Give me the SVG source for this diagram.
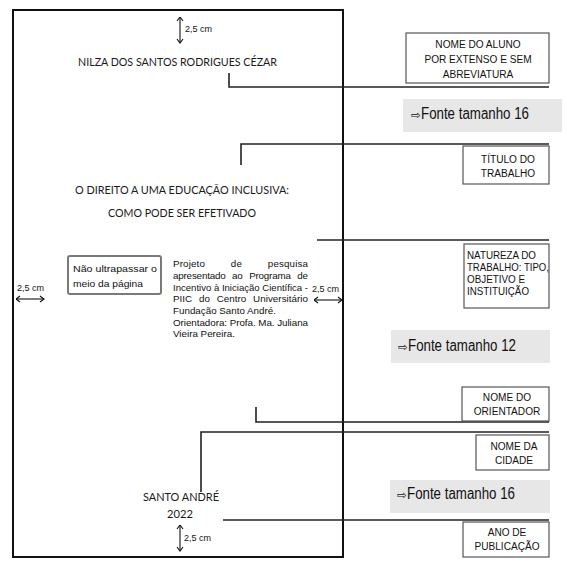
<svg xmlns="http://www.w3.org/2000/svg" width="567" height="568" viewBox="0 0 567 568">
<style>
.cal{font-family:Lato,"Open Sans","Liberation Sans",sans-serif;font-size:12px;fill:#1a1a1a}
.lab{font-family:"Liberation Sans",Arial,sans-serif;font-size:11px;fill:#111}
.sm{font-family:"Liberation Sans",Arial,sans-serif;font-size:9px;fill:#111}
.body{font-family:"Liberation Sans",Arial,sans-serif;font-size:9.8px;fill:#111}
.big{font-family:"Liberation Sans",Arial,sans-serif;font-size:16px;fill:#111}
.arw{font-family:"DejaVu Sans",sans-serif;font-size:11.5px;fill:#111}
.box{fill:#fff;stroke:#555;stroke-width:1.2}
.gray{fill:#e7e7e7;stroke:none}
.con{fill:none;stroke:#222;stroke-width:1.6}
.dim{fill:none;stroke:#111;stroke-width:1.1;marker-start:url(#ah);marker-end:url(#ah)}
</style>
<defs>
<marker id="ah" viewBox="0 0 8 8" refX="7.5" refY="4" markerWidth="8" markerHeight="8" markerUnits="userSpaceOnUse" orient="auto-start-reverse">
<path d="M3.5,1 L7.5,4 L3.5,7" fill="none" stroke="#111" stroke-width="1.1"/>
</marker>
</defs>
<rect width="567" height="568" fill="#fff"/>

<g id="page">
<rect x="13" y="10" width="330" height="547" fill="none" stroke="#111" stroke-width="2"/>
<text class="cal" x="78" y="66" textLength="199" lengthAdjust="spacingAndGlyphs">NILZA DOS SANTOS RODRIGUES CÉZAR</text>
<text class="cal" x="75" y="194" textLength="214" lengthAdjust="spacingAndGlyphs">O DIREITO A UMA EDUCAÇÃO INCLUSIVA:</text>
<text class="cal" x="108" y="217" textLength="148" lengthAdjust="spacingAndGlyphs">COMO PODE SER EFETIVADO</text>
<text class="cal" x="143" y="501" textLength="76" lengthAdjust="spacingAndGlyphs">SANTO ANDRÉ</text>
<text class="cal" x="167" y="518" textLength="26" lengthAdjust="spacingAndGlyphs">2022</text>
</g>

<g id="margins">
<path class="dim" d="M180,17 V43"/>
<text class="sm" x="185" y="32">2,5 cm</text>
<path class="dim" d="M16,299 H44"/>
<text class="sm" x="17" y="291">2,5 cm</text>
<path class="dim" d="M314,300 H342"/>
<text class="sm" x="312" y="292">2,5 cm</text>
<path class="dim" d="M180,525 V551"/>
<text class="sm" x="184" y="541">2,5 cm</text>
</g>

<g id="nao-ultrapassar">
<rect x="68" y="256" width="93" height="38" rx="2" fill="#fff" stroke="#7a7a7a" stroke-width="2"/>
<text class="body" x="73" y="272" font-size="10.6" textLength="84" lengthAdjust="spacingAndGlyphs">Não ultrapassar o</text>
<text class="body" x="73" y="287" font-size="10.6" textLength="70" lengthAdjust="spacingAndGlyphs">meio da página</text>
</g>

<g id="projeto">
<text class="body" x="173" y="267" word-spacing="23" textLength="135" lengthAdjust="spacing">Projeto de pesquisa</text>
<text class="body" x="173" y="279" word-spacing="4" textLength="135" lengthAdjust="spacing">apresentado ao Programa de</text>
<text class="body" x="173" y="291" textLength="135" lengthAdjust="spacingAndGlyphs">Incentivo à Iniciação Científica -</text>
<text class="body" x="173" y="302" word-spacing="4" textLength="135" lengthAdjust="spacing">PIIC do Centro Universitário</text>
<text class="body" x="173" y="314">Fundação Santo André.</text>
<text class="body" x="173" y="326" textLength="135" lengthAdjust="spacing">Orientadora: Profa. Ma. Juliana</text>
<text class="body" x="173" y="337">Vieira Pereira.</text>
</g>

<g id="connectors">
<path class="con" d="M229,73 V87 H549"/>
<path class="con" d="M241,165 V144 H549"/>
<path class="con" d="M317,240 H549"/>
<path class="con" d="M256,407 V422 H549" stroke-width="2"/>
<path class="con" d="M201,492 V432 H549"/>
<path class="con" d="M223,520 H549"/>
</g>

<g id="nome-aluno">
<rect class="box" x="406" y="33" width="143" height="50"/>
<text class="lab" transform="translate(478,48) scale(0.92,1)" text-anchor="middle">NOME DO ALUNO</text>
<text class="lab" transform="translate(478,63) scale(0.92,1)" text-anchor="middle">POR EXTENSO E SEM</text>
<text class="lab" transform="translate(478,78) scale(0.92,1)" text-anchor="middle">ABREVIATURA</text>
</g>

<g id="fonte16a">
<rect class="gray" x="403" y="99" width="159" height="33"/>
<text class="arw" x="411" y="118.5">⇨</text>
<text class="big" x="421" y="119" textLength="108" lengthAdjust="spacingAndGlyphs">Fonte tamanho 16</text>
</g>

<g id="titulo">
<rect class="box" x="463" y="146" width="86" height="38"/>
<text class="lab" transform="translate(508,163) scale(0.92,1)" text-anchor="middle">TÍTULO DO</text>
<text class="lab" transform="translate(508,177) scale(0.92,1)" text-anchor="middle">TRABALHO</text>
</g>

<g id="natureza">
<rect class="box" x="464" y="244" width="85" height="64"/>
<text class="lab" x="467" y="259" font-size="9.8" textLength="69" lengthAdjust="spacingAndGlyphs">NATUREZA DO</text>
<text class="lab" x="467" y="271" font-size="9.8" textLength="82" lengthAdjust="spacingAndGlyphs">TRABALHO: TIPO,</text>
<text class="lab" x="467" y="283" font-size="9.8" textLength="58" lengthAdjust="spacingAndGlyphs">OBJETIVO E</text>
<text class="lab" x="467" y="295" font-size="9.8" textLength="62" lengthAdjust="spacingAndGlyphs">INSTITUIÇÃO</text>
</g>

<g id="fonte12">
<rect class="gray" x="391" y="330" width="159" height="33"/>
<text class="arw" x="398" y="350.5">⇨</text>
<text class="big" x="408" y="351" textLength="108" lengthAdjust="spacingAndGlyphs">Fonte tamanho 12</text>
</g>

<g id="orientador">
<rect class="box" x="462" y="387" width="87" height="34"/>
<text class="lab" transform="translate(507,401) scale(0.92,1)" text-anchor="middle">NOME DO</text>
<text class="lab" transform="translate(507,415) scale(0.92,1)" text-anchor="middle">ORIENTADOR</text>
</g>

<g id="cidade">
<rect class="box" x="476" y="435" width="73" height="35"/>
<text class="lab" transform="translate(514,450) scale(0.92,1)" text-anchor="middle">NOME DA</text>
<text class="lab" transform="translate(514,464) scale(0.92,1)" text-anchor="middle">CIDADE</text>
</g>

<g id="fonte16b">
<rect class="gray" x="390" y="480" width="160" height="33"/>
<text class="arw" x="397" y="498.5">⇨</text>
<text class="big" x="407" y="499" textLength="108" lengthAdjust="spacingAndGlyphs">Fonte tamanho 16</text>
</g>

<g id="ano">
<rect class="box" x="463" y="522" width="86" height="35"/>
<text class="lab" transform="translate(507,536) scale(0.92,1)" text-anchor="middle">ANO DE</text>
<text class="lab" transform="translate(507,550) scale(0.92,1)" text-anchor="middle">PUBLICAÇÃO</text>
</g>
</svg>
